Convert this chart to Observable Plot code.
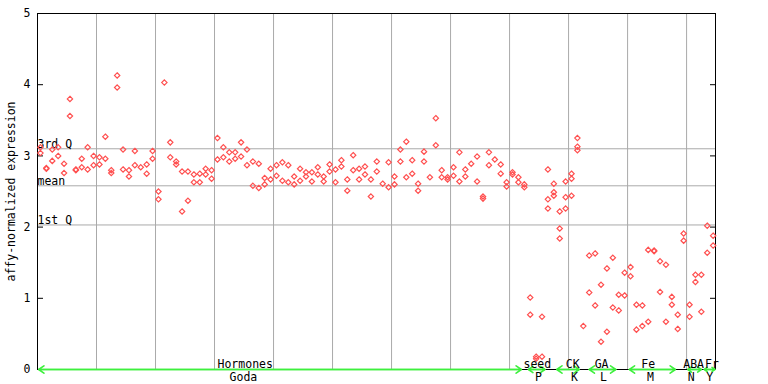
<!DOCTYPE html>
<html>
<head>
<meta charset="utf-8">
<script src="https://cdn.jsdelivr.net/npm/d3@7"></script>
<script src="https://cdn.jsdelivr.net/npm/@observablehq/plot@0.6"></script>
<style>
  html, body { margin: 0; padding: 0; background: white; }
  #chart { width: 768px; height: 384px; overflow: hidden; }
</style>
</head>
<body>
<div id="chart"></div>
<script>
// Expression values per sample (replicates)
const sampleValues = [
  [3.12, 3.04], [2.83, 2.82], [3.09, 2.93], [3.12, 3.00], [2.89, 2.76],
  [3.80, 3.56], [2.81, 2.80], [2.96, 2.84], [3.12, 2.81], [3.00, 2.87],
  [2.98, 2.88], [3.27, 2.96], [2.80, 2.76], [4.13, 3.96], [3.09, 2.81],
  [2.80, 2.71], [3.07, 2.87], [2.84], [2.88, 2.75], [3.07, 2.96],
  [2.50, 2.39], [4.03], [3.19, 2.98], [2.92, 2.88], [2.78, 2.22],
  [2.78, 2.37], [2.74, 2.63], [2.75, 2.63], [2.82, 2.74], [2.80, 2.68],
  [3.25, 2.95], [3.12, 2.98], [3.05, 2.92], [3.05, 2.96], [3.19, 2.99],
  [3.09, 2.87], [2.92, 2.58], [2.89, 2.55], [2.69, 2.60], [2.82, 2.67],
  [2.87, 2.72], [2.91, 2.65], [2.87, 2.63], [2.71, 2.60], [2.82, 2.65],
  [2.77, 2.71], [2.77, 2.64], [2.84, 2.74], [2.71, 2.64], [2.88, 2.78],
  [2.81, 2.63], [2.94, 2.85], [2.67, 2.51], [3.01, 2.80], [2.82, 2.67],
  [2.85, 2.74], [2.67, 2.43], [2.92, 2.78], [2.61], [2.91, 2.56],
  [2.71, 2.60], [3.09, 2.92], [3.20, 2.70], [2.94, 2.75], [2.61, 2.51],
  [3.06, 2.92], [2.70], [3.53, 3.15], [2.80, 2.70], [2.70, 2.67],
  [2.84, 2.72], [3.05, 2.64], [2.81, 2.71], [2.89], [2.99, 2.64],
  [2.43, 2.40], [3.05, 2.87], [2.95], [2.88, 2.75], [2.63, 2.57],
  [2.77, 2.74], [2.70, 2.63], [2.60, 2.56], [1.01, 0.77], [0.18, 0.15],
  [0.74, 0.18], [2.81, 2.39, 2.26], [2.61, 2.49, 2.44], [2.22, 1.98, 1.84], [2.64, 2.42, 2.26],
  [2.75, 2.68, 2.44], [3.25, 3.13, 3.08], [0.61], [1.60, 1.08], [1.63, 0.90],
  [1.19, 0.39], [1.42, 0.53], [1.57, 0.87], [1.05, 0.83], [1.36, 1.04],
  [1.44, 1.31], [0.91, 0.56], [0.90, 0.61], [1.68, 0.67], [1.67, 1.66],
  [1.52, 1.09], [1.47, 0.67], [1.02, 0.91], [0.77, 0.57], [1.91, 1.81],
  [0.91, 0.74], [1.33, 1.23], [1.33, 0.81], [2.02, 1.64], [1.88, 1.74]
];

// Quartile reference lines
const refLabels = ["3rd Q", "mean", "1st Q"];
const refValues = [3.10, 2.58, 2.03];

// Experiment groups (in sample-index units)
const groupNames = ["Hormones", "seed", "CK", "GA", "Fe", "ABA", "Fr"];
const groupCodes = ["Goda", "P", "K", "L", "M", "N", "Y"];
const groupStart = [-0.3, 82.7, 87.5, 93.0, 99.8, 109.7, 112.5];
const groupEnd = [81.5, 85.5, 91.3, 97.5, 107.6, 112.0, 114.3];
const groupLabelPos = [34.7, 84.2, 90.2, 95.1, 103.0, 110.7, 113.8];
const groupCodePos = [34.4, 84.4, 90.5, 95.4, 103.4, 110.3, 113.4];

const yTicks = [0, 1, 2, 3, 4, 5];
const gridX = [9.5, 19.5, 29.5, 39.5, 49.5, 59.5, 69.5, 79.5, 89.5, 99.5, 109.5];

const points = sampleValues.flatMap((vals, i) => vals.map(v => ({i, v})));
const groups = groupNames.map((name, k) => ({
  name, code: groupCodes[k], x1: groupStart[k], x2: groupEnd[k],
  lx: groupLabelPos[k], cx: groupCodePos[k]
}));
const refs = refLabels.map((label, k) => ({label, value: refValues[k]}));

const W = 768, H = 384, ML = 37, MR = 53, MT = 13, MB = 15;
const innerW = W - ML - MR;
const green = "#3ef03e";
const font = "DejaVu Sans Mono";

const chart = Plot.plot({
  width: W,
  height: H,
  marginLeft: ML,
  marginRight: MR,
  marginTop: MT,
  marginBottom: MB,
  style: {fontFamily: font, fontSize: "11.5px", background: "white", color: "black", overflow: "visible"},
  x: {domain: [-0.5, 114.4], axis: null},
  y: {domain: [0, 5]},
  marks: [
    Plot.ruleX(gridX, {stroke: "#aaaaaa", strokeWidth: 1}),
    Plot.ruleY(refs, {y: "value", stroke: "#aaaaaa", strokeWidth: 1}),
    Plot.frame({stroke: "black"}),
    Plot.tickY(yTicks, {y: d => d, stroke: "black", insetRight: innerW - 6}),
    Plot.tickY(yTicks, {y: d => d, stroke: "black", insetLeft: innerW - 5}),
    Plot.axisY({
      ticks: yTicks, tickSize: 0, tickPadding: 7, tickFormat: d3.format("d"),
      label: "affy-normalized expression", labelAnchor: "center", labelOffset: 31, labelArrow: "none",
      fontSize: "11.5px"
    }),
    Plot.text(refs, {x: () => -0.5, y: "value", text: "label", textAnchor: "start", lineAnchor: "bottom", dy: -1, fill: "black"}),
    Plot.dot(points, {x: "i", y: "v", symbol: "diamond2", r: 2.4, stroke: "#ff5050", strokeWidth: 1.2, fill: "none"}),
    Plot.arrow(groups, {x1: "x1", x2: "x2", y1: () => 0, y2: () => 0, stroke: green, strokeWidth: 1.6, headLength: 6, headAngle: 70, bend: 0}),
    Plot.arrow(groups, {x1: "x2", x2: "x1", y1: () => 0, y2: () => 0, stroke: green, strokeWidth: 1.6, headLength: 6, headAngle: 70, bend: 0}),
    Plot.text(groups, {x: "lx", y: () => 0, text: "name", lineAnchor: "bottom", dy: -2, fill: "black"}),
    Plot.text(groups, {x: "cx", y: () => 0, text: "code", lineAnchor: "top", dy: 3, fill: "black"})
  ]
});

document.getElementById("chart").appendChild(chart);
</script>
</body>
</html>
